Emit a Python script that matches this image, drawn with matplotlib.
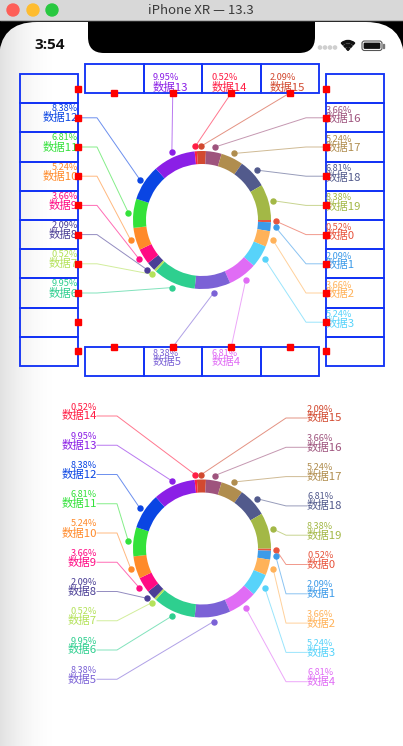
import matplotlib
matplotlib.use('Agg')
import matplotlib.pyplot as plt
from matplotlib.patches import Rectangle, Circle, FancyBboxPatch, Wedge
import numpy as np

W, H = 403, 746
FONT = ['Noto Sans CJK SC', 'DejaVu Sans']

# slices: name, value, colour
names = ['数据%d' % i for i in range(20)]
values = [1, 4, 7, 10, 13, 16, 19, 1, 4, 7, 10, 13, 16, 19, 1, 4, 7, 10, 13, 16]
colors = ['#e8553e', '#3d9be9', '#ffb259', '#57d3fa', '#e06cf5',
          '#7b62d6', '#2ecf8f', '#b4e25a', '#4b3f96', '#ff0a83',
          '#ff8a2a', '#33e23a', '#0a45e3', '#8b1fe6', '#ff1d44',
          '#d2492f', '#9e537d', '#b08d4e', '#525a8c', '#a3b846']

# which slice sits in each box of the upper chart (None = empty box)
top_row = [None, 13, 14, 15]
right_col = [None, 16, 17, 18, 19, 0, 1, 2, 3, None]
bottom_row = [None, 5, 4, None]
left_col = [None, 12, 11, 10, 9, 8, 7, 6, None, None]

# outside labels of the lower chart, top to bottom
left_labels = [14, 13, 12, 11, 10, 9, 8, 7, 6, 5]
right_labels = [15, 16, 17, 18, 19, 0, 1, 2, 3, 4]

total = float(sum(values))
pcts = ['%.2f%%' % (v / total * 100) for v in values]

fig = plt.figure(figsize=(W / 100, H / 100), dpi=100)
ax = fig.add_axes([0, 0, 1, 1])

# ---- simulator chrome ----
ax.add_patch(Rectangle((0, 18), W, 70, color='black', zorder=0))
screen = FancyBboxPatch((-1, 22), W + 2, 800, boxstyle='round,pad=0,rounding_size=38',
                        fc='white', ec='none', zorder=1)
ax.add_patch(screen)
ax.add_patch(FancyBboxPatch((88, 5), 227, 48, boxstyle='round,pad=0,rounding_size=16',
                            fc='black', ec='none', zorder=2))
grad = np.zeros((1, 60, 4))
grad[..., :3] = 0.55
grad[0, :, 3] = 0.26 * (1 - np.linspace(0, 1, 60)) ** 2
im = ax.imshow(grad, extent=[0, 60, H, 22], aspect='auto', zorder=1.5)
im.set_clip_path(screen)

ax.add_patch(Rectangle((0, 0), W, 20, color='#d8d8d8', zorder=3))
ax.plot([0, W], [20, 20], color='#aaaaaa', lw=0.6, zorder=3)
for x, c in zip([13, 33, 52], ['#fe5f57', '#febc2e', '#28c840']):
    ax.add_patch(Circle((x, 10), 6, color=c, zorder=4))
ax.text(201, 10.5, 'iPhone XR — 13.3', ha='center', va='center', fontsize=9.5,
        color='#3a3a3a', family=FONT, zorder=4)

ax.text(50, 45, '3:54', ha='center', va='center', fontsize=11, fontweight='bold',
        family=['Open Sans', 'DejaVu Sans'], color='#111111', zorder=4)
for x in [320, 325, 330, 335]:
    ax.add_patch(Circle((x, 47.5), 1.6, color='#cfcfcf', zorder=4))
for r, wd in [(10, 2.2), (6.4, 2.2), (2.8, None)]:
    ax.add_patch(Wedge((348, 50.5), r, -132, -48, width=wd, color='#111111', zorder=4))
ax.add_patch(FancyBboxPatch((362, 41), 20, 9.5, boxstyle='round,pad=0,rounding_size=2.5',
                            fc='none', ec='#555555', lw=0.8, zorder=4))
ax.add_patch(FancyBboxPatch((363.6, 42.6), 16.8, 6.3, boxstyle='round,pad=0,rounding_size=1.2',
                            fc='#111111', ec='none', zorder=4))
ax.add_patch(Rectangle((382.6, 44), 1.5, 3.5, color='#777777', zorder=4))


def donut(cx, cy):
    wedges = ax.pie(values, colors=colors, startangle=0, counterclock=True, radius=69,
                    center=(cx, cy), frame=True,
                    wedgeprops=dict(width=13, linewidth=0))[0]
    pts = []
    for w in wedges:
        w.set_zorder(5)
        a = np.deg2rad((w.theta1 + w.theta2) / 2)
        pts.append((cx + 74 * np.cos(a), cy + 74 * np.sin(a)))
    return pts


def leader(i, xs, ys):
    ax.plot(xs, ys, color=colors[i], lw=0.7, alpha=0.6, zorder=6)
    ax.plot(xs[0], ys[0], 'o', ms=3.6, color=colors[i], zorder=7)


def label(i, x, y, ha, dy=9):
    ax.text(x, y, names[i], ha=ha, va='center', fontsize=8.2, color=colors[i],
            family=FONT, zorder=8)
    ax.text(x, y - dy, pcts[i], ha=ha, va='center', fontsize=6.6, color=colors[i],
            family=FONT, zorder=8)


# ---- upper chart: labels in boxes ----
BLUE = '#1434f5'
pts = donut(202, 220)
bh = 29.2
for k in range(10):
    y0 = 74 + k * bh
    my = y0 + bh / 2
    ax.add_patch(Rectangle((20, y0), 58, bh, fc='none', ec=BLUE, lw=1.35, zorder=4))
    ax.add_patch(Rectangle((326, y0), 58, bh, fc='none', ec=BLUE, lw=1.35, zorder=4))
    ax.plot(78, my, 's', ms=4.5, color='#ff0000', zorder=9)
    ax.plot(326, my, 's', ms=4.5, color='#ff0000', zorder=9)
    i = left_col[k]
    if i is not None:
        leader(i, [pts[i][0], 97, 78], [pts[i][1], my, my])
        label(i, 78, my, 'right')
    i = right_col[k]
    if i is not None:
        leader(i, [pts[i][0], 306, 326], [pts[i][1], my, my])
        label(i, 326, my + 1, 'left', dy=8.5)
for k in range(4):
    x0 = 85 + k * 58.5
    mx = x0 + 29.25
    ax.add_patch(Rectangle((x0, 64), 58.5, 29, fc='none', ec=BLUE, lw=1.35, zorder=4))
    ax.add_patch(Rectangle((x0, 347), 58.5, 29, fc='none', ec=BLUE, lw=1.35, zorder=4))
    ax.plot(mx, 93, 's', ms=4.5, color='#ff0000', zorder=9)
    ax.plot(mx, 347, 's', ms=4.5, color='#ff0000', zorder=9)
    i = top_row[k]
    if i is not None:
        leader(i, [pts[i][0], mx], [pts[i][1], 93])
        label(i, x0 + 9.5, 87.5, 'left', dy=9.5)
    i = bottom_row[k]
    if i is not None:
        leader(i, [pts[i][0], mx], [pts[i][1], 347])
        label(i, x0 + 9.5, 361.5, 'left', dy=8.5)

# ---- lower chart: labels outside ----
pts = donut(202, 548.5)
for k, i in enumerate(left_labels):
    y = 416 + k * 29.25
    leader(i, [pts[i][0], 117, 97], [pts[i][1], y, y])
    label(i, 97, y, 'right')
for k, i in enumerate(right_labels):
    y = 418 + k * 29.3
    leader(i, [pts[i][0], 286, 307], [pts[i][1], y, y])
    label(i, 307, y, 'left')

ax.set_xlim(0, W)
ax.set_ylim(H, 0)
ax.set_aspect('auto')
ax.axis('off')
fig.savefig('out.png', dpi=100)
